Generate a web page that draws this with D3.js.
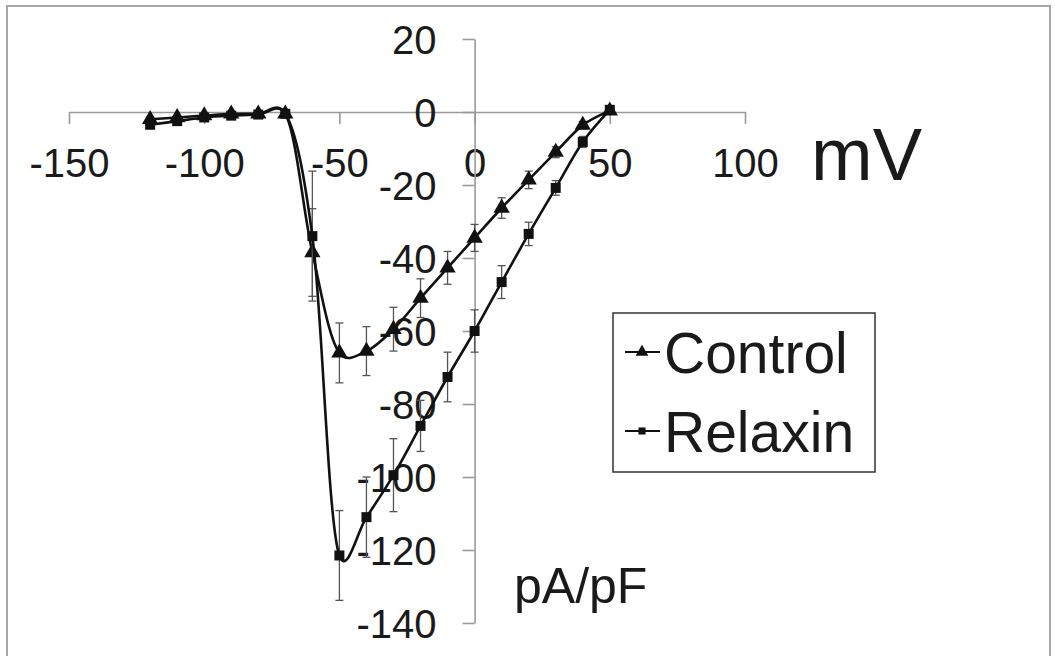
<!DOCTYPE html>
<html>
<head>
<meta charset="utf-8">
<script src="https://cdn.jsdelivr.net/npm/d3@7"></script>
<style>
  body { margin: 0; background: #fff; }
  svg { display: block; }
  text { font-family: "Liberation Sans", Arial, sans-serif; fill: #1a1a1a; }
</style>
</head>
<body>
<div id="container"></div>
<script>
/* DATA */
const voltage = [-120, -110, -100, -90, -80, -70, -60, -50, -40, -30, -20, -10, 0, 10, 20, 30, 40, 50];
const control = [-2, -1.5, -1, -0.5, -0.5, -0.5, -38.5, -66, -65.5, -59.5, -51, -42.7, -34.5, -26.3, -18.6, -11, -3.6, 0.3];
const controlErr = [0.6, 0.5, 0.4, 0.3, 0.3, 0.4, 12, 8.2, 6.7, 6, 5.3, 4.5, 3.7, 2.8, 2.4, 1.5, 1, 0.5];
const relaxin = [-3.5, -2.5, -1.5, -1, -0.7, -0.5, -34, -121.5, -111, -99.5, -86, -72.6, -60, -46.6, -33.4, -20.8, -8.2, 0.6];
const relaxinErr = [0.8, 0.6, 0.5, 0.4, 0.3, 0.4, 17.8, 12.3, 11, 10, 7, 6.8, 5.8, 4.5, 3.2, 2, 1.5, 0.5];
const xTicks = [-150, -100, -50, 0, 50, 100];
const yTicks = [20, 0, -20, -40, -60, -80, -100, -120, -140];
const seriesNames = ["Control", "Relaxin"];

/* CONSTANTS */
const width = 1055;
const height = 656;

const svg = d3.select("#container")
  .append("svg")
  .attr("width", width)
  .attr("height", height)

// outer frame
svg.append("rect")
  .attr("x", 7).attr("y", 6)
  .attr("width", 1043).attr("height", 670)
  .attr("fill", "none")
  .attr("stroke", "#a8a8a8")
  .attr("stroke-width", 2)

/* SCALES */
const xScale = d3.scaleLinear()
  .domain([-150, 100])
  .range([69, 745])

const yScale = d3.scaleLinear()
  .domain([-140, 20])
  .range([623, 39])

/* AXES */
const xAxis = d3.axisBottom(xScale)
  .tickValues(xTicks)
  .tickSize(12)
  .tickSizeOuter(0)
  .tickFormat(d => d)

const yAxis = d3.axisLeft(yScale)
  .tickValues(yTicks)
  .tickSize(12)
  .tickSizeOuter(0)
  .tickPadding(26)
  .tickFormat(d => d)

const gx = svg.append("g")
  .attr("transform", `translate(0,${yScale(0)})`)
  .call(xAxis)

const gy = svg.append("g")
  .attr("transform", `translate(${xScale(0)},0)`)
  .call(yAxis)

;[gx, gy].forEach(g => {
  g.select(".domain").attr("stroke", "#9a9a9a").attr("stroke-width", 1.6)
  g.selectAll(".tick line").attr("stroke", "#9a9a9a").attr("stroke-width", 1.6)
  g.selectAll("text")
    .attr("fill", "#1a1a1a")
    .style("font-family", '"Liberation Sans", Arial, sans-serif')
    .style("font-size", "40px")
})
gx.selectAll("text").attr("y", 65).attr("dy", 0)
gy.selectAll("text").attr("dy", "0.36em")

// axis titles
svg.append("text")
  .attr("x", 811).attr("y", 180)
  .style("font-size", "74px")
  .text("mV")

svg.append("text")
  .attr("x", 514).attr("y", 603)
  .style("font-size", "50px")
  .text("pA/pF")

/* SERIES */
const series = [
  {name: seriesNames[0], values: control, err: controlErr, symbol: d3.symbolTriangle, size: 115},
  {name: seriesNames[1], values: relaxin, err: relaxinErr, symbol: d3.symbolSquare, size: 100}
]

const line = d3.line()
  .x((d, i) => xScale(voltage[i]))
  .y(d => yScale(d))
  .curve(d3.curveCatmullRom.alpha(0.2))

series.forEach(s => {
  const g = svg.append("g")

  // error bars
  const eb = g.selectAll("g.err")
    .data(s.values.map((v, i) => ({x: voltage[i], y: v, e: s.err[i]})))
    .join("g")
    .attr("class", "err")
    .attr("stroke", "#555")
    .attr("stroke-width", 1.3)
  eb.append("line")
    .attr("x1", d => xScale(d.x)).attr("x2", d => xScale(d.x))
    .attr("y1", d => yScale(d.y + d.e)).attr("y2", d => yScale(d.y - d.e))
  eb.append("line")
    .attr("x1", d => xScale(d.x) - 4).attr("x2", d => xScale(d.x) + 4)
    .attr("y1", d => yScale(d.y + d.e)).attr("y2", d => yScale(d.y + d.e))
  eb.append("line")
    .attr("x1", d => xScale(d.x) - 4).attr("x2", d => xScale(d.x) + 4)
    .attr("y1", d => yScale(d.y - d.e)).attr("y2", d => yScale(d.y - d.e))

  g.append("path")
    .datum(s.values)
    .attr("d", line)
    .attr("fill", "none")
    .attr("stroke", "#111")
    .attr("stroke-width", 2.6)

  g.selectAll("path.mark")
    .data(s.values)
    .join("path")
    .attr("class", "mark")
    .attr("transform", (d, i) => `translate(${xScale(voltage[i])},${yScale(d)})`)
    .attr("d", d3.symbol().type(s.symbol).size(s.size))
    .attr("fill", "#111")
})

/* LEGEND */
const legend = svg.append("g")
legend.append("rect")
  .attr("x", 613).attr("y", 313)
  .attr("width", 262).attr("height", 159)
  .attr("fill", "#fff")
  .attr("stroke", "#333")
  .attr("stroke-width", 1.5)

series.forEach((s, i) => {
  const cy = 352 + i * 79
  legend.append("line")
    .attr("x1", 625).attr("x2", 660)
    .attr("y1", cy).attr("y2", cy)
    .attr("stroke", "#111").attr("stroke-width", 2)
  legend.append("path")
    .attr("transform", `translate(642,${cy})`)
    .attr("d", d3.symbol().type(s.symbol).size(i === 0 ? 70 : 50))
    .attr("fill", "#111")
  legend.append("text")
    .attr("x", 664).attr("y", cy + 21)
    .style("font-size", "57px")
    .text(s.name)
})
</script>
</body>
</html>
